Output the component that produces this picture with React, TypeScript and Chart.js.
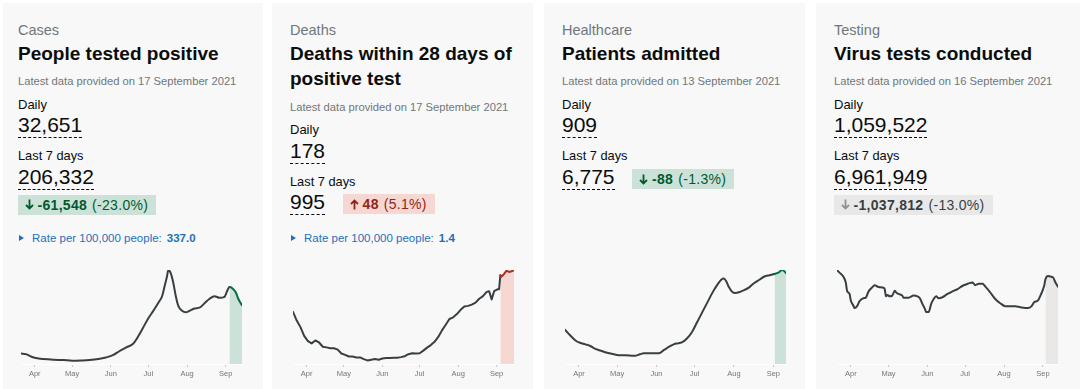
import React, { useEffect, useRef } from "react";
import { Chart, registerables } from "chart.js";
Chart.register(...registerables);

const FONT = "'Liberation Sans', Arial, Helvetica, sans-serif";

// ---------- data ----------
const monthTickDates = ["04-01", "05-01", "06-01", "07-01", "08-01", "09-01"];
const monthTickLabels = ["Apr", "May", "Jun", "Jul", "Aug", "Sep"];

const casesDates = ["03-21","03-25","03-29","04-02","04-08","04-16","04-24","05-01","05-08","05-15","05-22","05-28","06-03","06-08","06-13","06-19","06-23","06-27","07-01","07-05","07-09","07-12","07-14","07-16","07-17","07-19","07-21","07-23","07-25","07-28","07-31","08-03","08-07","08-11","08-15","08-19","08-23","08-27","08-31","09-02","09-04","09-06","09-09","09-11","09-14"];
const casesValues = [5300,5000,3800,3000,2500,2150,2000,1700,1800,2000,2500,3300,4600,6600,8300,10400,14200,18700,23200,27000,31100,34400,39400,44700,47700,46000,41100,34400,29500,27000,26200,27000,28200,28600,30800,33100,34400,33600,34100,36900,39100,38600,36400,33100,29800];

const deathsDates = ["03-21","03-24","03-27","03-30","04-02","04-05","04-08","04-11","04-14","04-17","04-20","04-23","04-26","04-29","05-02","05-05","05-08","05-11","05-14","05-17","05-20","05-23","05-26","05-29","06-01","06-04","06-07","06-10","06-13","06-16","06-19","06-22","06-25","06-28","07-01","07-04","07-07","07-10","07-13","07-16","07-19","07-22","07-25","07-28","07-31","08-03","08-06","08-09","08-12","08-15","08-18","08-21","08-24","08-26","08-28","08-30","09-02","09-03","09-04","09-05","09-07","09-09","09-11","09-13","09-15"];
const deathsValues = [78.9,65.6,55.7,42.4,34.5,31.1,35.5,32.5,26.1,25.1,23.7,23.7,21.7,15.8,13.8,11.3,11.3,9.9,9.9,7.4,5.4,6.4,7.4,6.4,8.4,8.9,8.9,9.4,9.4,10.4,11.8,14.8,16.3,15.8,16.3,20.2,24.7,28.6,33.5,40.9,50.8,59.2,68.0,70.5,75.4,81.8,86.8,87.8,89.7,92.7,98.6,102.5,109,110,97.6,110,113,113,134,132,136,141,139,140,142];

const healthcareDates = ["03-21","03-25","03-29","04-01","04-06","04-10","04-13","04-17","04-21","04-25","05-01","05-06","05-11","05-15","05-19","05-22","05-27","06-03","06-07","06-11","06-15","06-17","06-21","06-25","06-29","07-03","07-07","07-11","07-15","07-19","07-22","07-24","07-26","07-28","07-31","08-02","08-05","08-09","08-13","08-17","08-21","08-25","08-29","09-02","09-05","09-08","09-10","09-11"];
const healthcareValues = [358,300,249,225,205,188,164,143,126,113,95,92,89,85,102,113,113,113,147,181,208,215,225,266,334,436,539,641,743,829,880,893,863,805,750,743,750,771,801,846,880,914,928,941,955,982,965,948];

const testingDates = ["03-21","03-23","03-26","03-28","03-29","03-31","04-01","04-03","04-04","04-06","04-08","04-11","04-13","04-15","04-18","04-20","04-23","04-27","04-28","04-29","04-30","05-02","05-04","05-06","05-07","05-09","05-12","05-13","05-17","05-21","05-24","05-26","05-28","05-30","05-31","06-02","06-04","06-06","06-08","06-10","06-13","06-17","06-21","06-25","06-29","07-03","07-07","07-09","07-12","07-15","07-17","07-21","07-25","07-29","08-02","08-06","08-10","08-14","08-20","08-23","08-25","08-28","08-30","09-02","09-03","09-05","09-07","09-09","09-11","09-13"];
const testingValues = [1211000,1177000,1126000,1050000,944000,902000,817000,754000,720000,745000,809000,847000,855000,931000,987000,1016000,991000,982000,965000,872000,889000,872000,881000,944000,923000,902000,881000,855000,855000,881000,872000,847000,775000,711000,669000,669000,775000,838000,872000,847000,860000,902000,936000,965000,1008000,1033000,1050000,1016000,1033000,1033000,999000,923000,838000,783000,745000,745000,745000,732000,720000,745000,796000,817000,881000,1008000,1092000,1135000,1126000,1118000,1050000,995000];

const highlightFrom = ["09-04", "09-04", "09-02", "09-03"];

const cardCategories = ["Cases", "Deaths", "Healthcare", "Testing"];
const cardTitles = [["People tested positive"], ["Deaths within 28 days of", "positive test"], ["Patients admitted"], ["Virus tests conducted"]];
const latestDates = ["17 September 2021", "17 September 2021", "13 September 2021", "16 September 2021"];
const dailyValues = ["32,651", "178", "909", "1,059,522"];
const weeklyValues = ["206,332", "995", "6,775", "6,961,949"];
const changeValues = ["-61,548", "48", "-88", "-1,037,812"];
const changePercents = ["(-23.0%)", "(5.1%)", "(-1.3%)", "(-13.0%)"];
const changeKinds = ["green", "red", "green", "grey"];
const changeDirections = ["down", "up", "down", "down"];
const ratePer100k = ["337.0", "1.4", "", ""];

// ---------- styling ----------
const LINE = "#383f43";
const kindStyles: Record<string, { bg: string; fg: string; arrow: string; line: string; fill: string }> = {
  green: { bg: "#cce2d8", fg: "#005a30", arrow: "#005a30", line: "#00703c", fill: "#cce2d8" },
  red: { bg: "#f6d7d2", fg: "#942514", arrow: "#942514", line: "#a8301c", fill: "#f6d7d2" },
  grey: { bg: "#e8e8e8", fg: "#383f43", arrow: "#8e9396", line: LINE, fill: "#e9e8e6" },
};
const cardOrigins = [0, 272, 544, 816];
const cardBgs = [[3, 260], [272, 261], [544, 261], [816, 264]];
const badgeInline = [false, true, true, false];

function toDay(mmdd: string): number {
  const [m, d] = mmdd.split("-").map(Number);
  return (Date.UTC(2021, m - 1, d) - Date.UTC(2021, 0, 1)) / 864e5 + 1;
}

type SparkProps = { dates: string[]; values: number[]; hlFrom: string; hlLine: string; hlFill: string; tension: number; left: number };

function Spark({ dates, values, hlFrom, hlLine, hlFill, tension, left }: SparkProps) {
  const ref = useRef<HTMLCanvasElement>(null);
  useEffect(() => {
    const xs = dates.map(toDay);
    const pts = xs.map((x, i) => ({ x, y: values[i] }));
    const hl = toDay(hlFrom);
    const hlPts = pts.filter((p) => p.x >= hl);
    const tickDays = monthTickDates.map(toDay);
    const interp = tension > 0 ? "monotone" : "default";
    const chart = new Chart(ref.current as HTMLCanvasElement, {
      type: "line",
      data: {
        datasets: [
          {
            data: pts,
            borderColor: LINE,
            borderWidth: 2,
            pointRadius: 0,
            fill: false,
            tension,
            cubicInterpolationMode: interp,
            borderJoinStyle: "round",
            borderCapStyle: "round",
            segment: { borderColor: (ctx: any) => (ctx.p0.parsed.x >= hl ? hlLine : LINE) },
          },
          {
            data: hlPts,
            borderWidth: 0,
            borderColor: "rgba(0,0,0,0)",
            pointRadius: 0,
            fill: "origin",
            backgroundColor: hlFill,
            tension,
            cubicInterpolationMode: interp,
          },
        ],
      },
      options: {
        animation: false,
        responsive: false,
        maintainAspectRatio: false,
        events: [],
        layout: { padding: { left: 21, right: 20, top: 6, bottom: 0 } },
        plugins: { legend: { display: false }, tooltip: { enabled: false } },
        scales: {
          x: {
            type: "linear",
            min: xs[0],
            max: xs[xs.length - 1],
            afterBuildTicks: (scale: any) => {
              scale.ticks = tickDays.map((v) => ({ value: v }));
            },
            ticks: {
              autoSkip: false,
              maxRotation: 0,
              padding: 2,
              color: "#6f777b",
              font: { family: FONT, size: 7.5 },
              callback: (v: any) => {
                const i = tickDays.indexOf(Number(v));
                return i >= 0 ? monthTickLabels[i] : "";
              },
            },
            grid: { drawOnChartArea: false, drawTicks: true, tickLength: 3, color: "#c9c9c9" },
            border: { display: true, color: "#ffffff", width: 1 },
          },
          y: { display: false, min: 0, max: Math.max(...values) },
        },
      },
    } as any);
    return () => chart.destroy();
  }, []);
  return (
    <canvas
      ref={ref}
      width={262}
      height={116}
      style={{ position: "absolute", left, top: 264, width: 262, height: 116 }}
    />
  );
}

function Arrow({ dir, color }: { dir: string; color: string }) {
  const up = dir === "up";
  return (
    <svg width="9" height="11" viewBox="0 0 9 11" style={{ marginRight: 4, display: "block" }}>
      {up ? (
        <path d="M4.5 10.5 V1.5 M1 5 L4.5 1.5 L8 5" stroke={color} strokeWidth="1.8" fill="none" />
      ) : (
        <path d="M4.5 0.5 V9.5 M1 6 L4.5 9.5 L8 6" stroke={color} strokeWidth="1.8" fill="none" />
      )}
    </svg>
  );
}

function Badge({ i, style }: { i: number; style: React.CSSProperties }) {
  const k = kindStyles[changeKinds[i]];
  return (
    <div
      style={{
        display: "flex",
        alignItems: "center",
        height: 20,
        padding: "0 8px 0 7px",
        background: k.bg,
        color: k.fg,
        fontSize: 14,
        letterSpacing: "0.3px",
        whiteSpace: "nowrap",
        ...style,
      }}
    >
      <Arrow dir={changeDirections[i]} color={k.arrow} />
      <b>{changeValues[i]}</b>
      <span style={{ marginLeft: 5 }}>{changePercents[i]}</span>
    </div>
  );
}

function Card({ i }: { i: number }) {
  const ox = cardOrigins[i];
  const lines = cardTitles[i];
  const dy = (lines.length - 1) * 25.3;
  const k = kindStyles[changeKinds[i]];
  const series = [
    [casesDates, casesValues],
    [deathsDates, deathsValues],
    [healthcareDates, healthcareValues],
    [testingDates, testingValues],
  ][i] as [string[], number[]];
  const txt = (top: number, extra: React.CSSProperties): React.CSSProperties => ({
    position: "absolute",
    left: ox + 18,
    top,
    whiteSpace: "nowrap",
    ...extra,
  });
  const valueStyle: React.CSSProperties = {
    fontSize: 21,
    lineHeight: "20px",
    paddingBottom: 2,
    borderBottom: "1px dashed #0b0c0c",
  };
  return (
    <>
      <div
        style={{
          position: "absolute",
          left: cardBgs[i][0],
          top: 3,
          width: cardBgs[i][1],
          height: 400,
          background: "#f8f8f8",
        }}
      />
      <div style={txt(21, { fontSize: 14.5, lineHeight: "18px", color: "#6f777b" })}>{cardCategories[i]}</div>
      {lines.map((l, j) => (
        <div key={j} style={txt(40.8 + j * 25.3, { fontSize: 19, fontWeight: "bold", lineHeight: "25px", color: "#0b0c0c" })}>
          {l}
        </div>
      ))}
      <div style={txt(74.2 + dy, { fontSize: 11.2, lineHeight: "14px", color: "#6f777b" })}>
        Latest data provided on {latestDates[i]}
      </div>
      <div style={txt(96.7 + dy, { fontSize: 13, lineHeight: "16px", color: "#0b0c0c" })}>Daily</div>
      <div style={txt(115.3 + dy, { ...valueStyle, color: "#0b0c0c" })}>{dailyValues[i]}</div>
      <div style={txt(148.2 + dy, { fontSize: 12.8, lineHeight: "16px", color: "#0b0c0c" })}>Last 7 days</div>
      <div style={txt(167 + dy, { display: "flex", alignItems: "flex-start", color: "#0b0c0c" })}>
        <span style={valueStyle}>{weeklyValues[i]}</span>
        {badgeInline[i] && <Badge i={i} style={{ marginLeft: 17.5, marginTop: 2 }} />}
      </div>
      {!badgeInline[i] && <Badge i={i} style={{ position: "absolute", left: ox + 17.5, top: 194.5 }} />}
      {ratePer100k[i] !== "" && (
        <div style={txt(231, { display: "flex", alignItems: "center", fontSize: 11.5, lineHeight: "14px", color: "#1d70b8" })}>
          <span
            style={{
              width: 0,
              height: 0,
              borderLeft: "5px solid #1d70b8",
              borderTop: "3.5px solid transparent",
              borderBottom: "3.5px solid transparent",
              marginLeft: 0.5,
              marginRight: 8.5,
            }}
          />
          <span>Rate per 100,000 people:</span>
          <b style={{ marginLeft: 5 }}>{ratePer100k[i]}</b>
        </div>
      )}
      <Spark
        dates={series[0]}
        values={series[1]}
        hlFrom={highlightFrom[i]}
        hlLine={k.line}
        hlFill={k.fill}
        tension={i === 1 ? 0 : 0.4}
        left={ox}
      />
    </>
  );
}

export default function App() {
  return (
    <div
      style={{
        position: "relative",
        width: 1080,
        height: 389,
        overflow: "hidden",
        background: "#ffffff",
        fontFamily: FONT,
      }}
    >
      <style>{"body{margin:0;}"}</style>
      {[0, 1, 2, 3].map((i) => (
        <Card key={i} i={i} />
      ))}
    </div>
  );
}
